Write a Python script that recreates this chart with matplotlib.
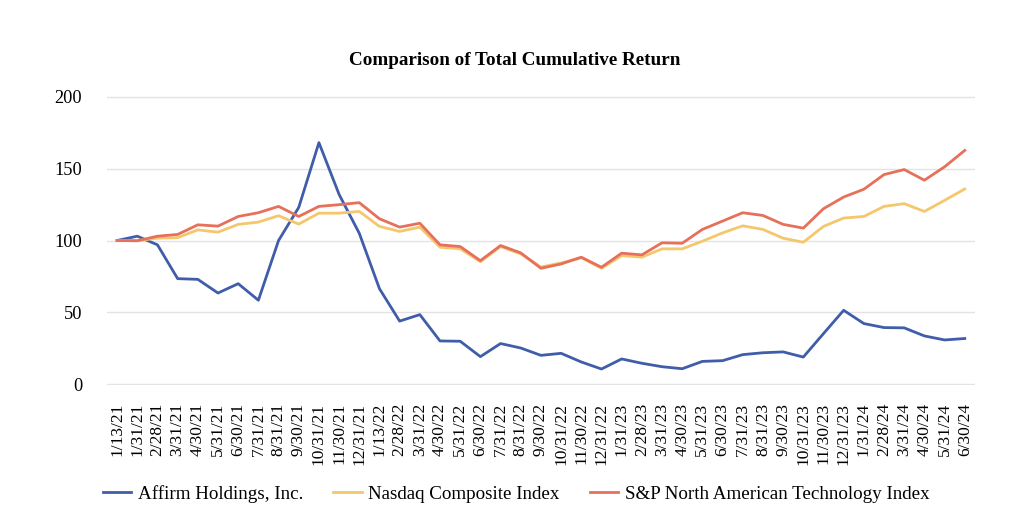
import matplotlib
matplotlib.use("Agg")
import matplotlib.pyplot as plt

dates = ["1/13/21", "1/31/21", "2/28/21", "3/31/21", "4/30/21", "5/31/21", "6/30/21",
         "7/31/21", "8/31/21", "9/30/21", "10/31/21", "11/30/21", "12/31/21", "1/13/22",
         "2/28/22", "3/31/22", "4/30/22", "5/31/22", "6/30/22", "7/31/22", "8/31/22",
         "9/30/22", "10/31/22", "11/30/22", "12/31/22", "1/31/23", "2/28/23", "3/31/23",
         "4/30/23", "5/31/23", "6/30/23", "7/31/23", "8/31/23", "9/30/23", "10/31/23",
         "11/30/23", "12/31/23", "1/31/24", "2/28/24", "3/31/24", "4/30/24", "5/31/24",
         "6/30/24"]

affirm = [100, 103, 97, 73.5, 73, 63.5, 70, 58.5, 100, 123, 168, 132, 105, 66.5,
          44, 48.5, 30.2, 30, 19.3, 28.4, 25.3, 20.2, 21.6, 15.6, 10.7, 17.7, 14.7,
          12.3, 10.9, 16, 16.5, 20.7, 22, 22.6, 19, 35.3, 51.5, 42.3, 39.5, 39.3,
          33.7, 30.9, 31.9]

nasdaq = [100, 100, 101.6, 102, 107.4, 105.8, 111.2, 112.8, 117.2, 111.4, 119, 119,
          120.2, 109.8, 106.3, 109.3, 95.3, 94.2, 85.3, 95.8, 90.7, 81.6, 84.4, 88,
          80.7, 89.5, 88.4, 94.2, 94.2, 99.5, 105.3, 110.2, 107.7, 101.6, 98.8, 109.8,
          115.6, 116.7, 123.7, 125.6, 120.2, 127.9, 135.8]

sp_tech = [100, 99.8, 103, 104.2, 110.9, 110, 116.7, 119.3, 123.7, 116.7, 123.7, 124.9,
           126.3, 115.1, 109.3, 112, 97, 95.8, 86, 96.5, 91.4, 80.7, 83.7, 88.4, 81.4,
           91.2, 90, 98.4, 98.1, 107.7, 113.5, 119.3, 117.4, 111.2, 108.6, 122.1, 130.2,
           135.6, 145.8, 149.3, 141.9, 151.2, 162.6]

series_names = ["Affirm Holdings, Inc.", "Nasdaq Composite Index",
                "S&P North American Technology Index"]
yticks = [0, 50, 100, 150, 200]

plt.rcParams["font.family"] = ["Liberation Serif", "DejaVu Serif"]

fig = plt.figure(figsize=(10.24, 5.19), dpi=100)
ax = fig.add_axes([0.1045, 0.2582, 0.8475, 0.5568])

x = list(range(len(dates)))
ax.plot(x, affirm, color="#3F5DA8", lw=2.0, label=series_names[0], zorder=3)
ax.plot(x, nasdaq, color="#F5C76C", lw=2.0, label=series_names[1], zorder=3)
ax.plot(x, sp_tech, color="#E6705A", lw=2.0, label=series_names[2], zorder=4)

ax.set_xlim(-0.5, len(dates) - 0.5)
ax.set_ylim(-0.4, 200.4)
ax.set_yticks(yticks)
ax.set_yticklabels([str(v) for v in yticks], fontsize=13.2)
ax.set_xticks(x)
ax.set_xticklabels(dates, rotation=90, fontsize=12.5)
ax.tick_params(axis="x", length=0, pad=13)
ax.tick_params(axis="y", length=0, pad=18)
ax.grid(axis="y", color="#E3E3E3", lw=1.0)
ax.set_axisbelow(True)
for s in ax.spines.values():
    s.set_visible(False)

fig.text(0.503, 0.884, "Comparison of Total Cumulative Return", ha="center",
         va="center", fontsize=13.8, fontweight="bold")

fig.legend(loc="center", bbox_to_anchor=(0.504, 0.048), ncol=3, frameon=False,
           fontsize=13.7, handlelength=1.5, handletextpad=0.34, columnspacing=1.58)

fig.savefig("out.png", dpi=100, facecolor="white")
